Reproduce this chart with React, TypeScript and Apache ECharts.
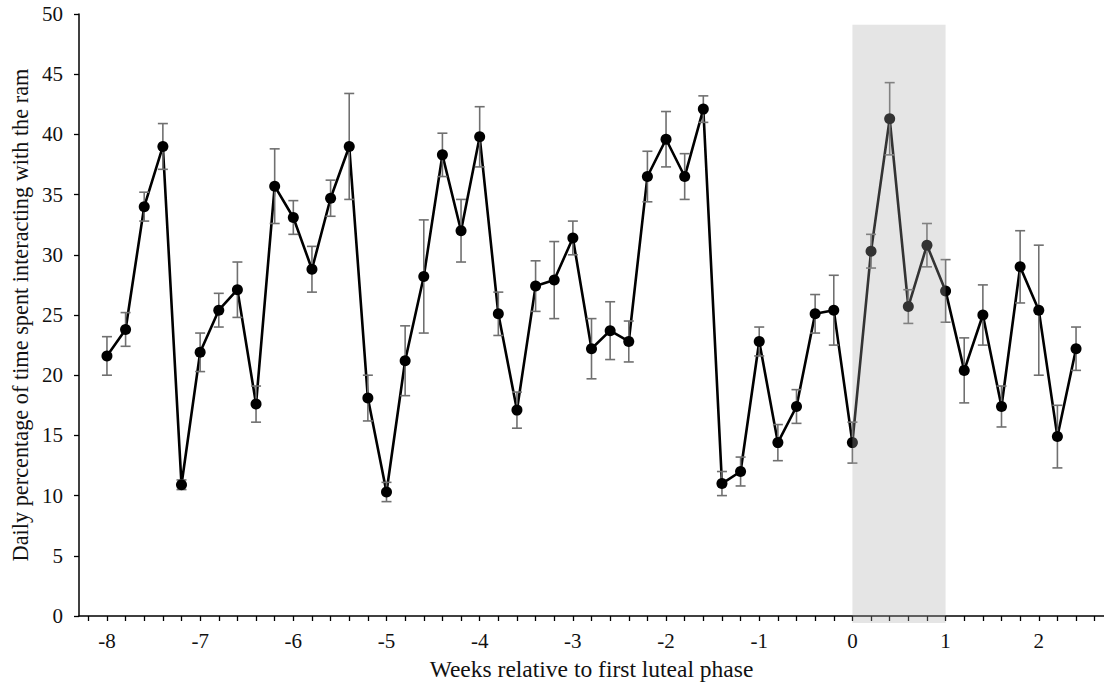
import React, { useEffect, useRef } from "react";
import * as echarts from "echarts";

const weeks = [
  -8.0, -7.8, -7.6, -7.4, -7.2, -7.0, -6.8, -6.6, -6.4, -6.2,
  -6.0, -5.8, -5.6, -5.4, -5.2, -5.0, -4.8, -4.6, -4.4, -4.2,
  -4.0, -3.8, -3.6, -3.4, -3.2, -3.0, -2.8, -2.6, -2.4, -2.2,
  -2.0, -1.8, -1.6, -1.4, -1.2, -1.0, -0.8, -0.6, -0.4, -0.2,
  0.0, 0.2, 0.4, 0.6, 0.8, 1.0, 1.2, 1.4, 1.6, 1.8,
  2.0, 2.2, 2.4,
];

const meanPct = [
  21.6, 23.8, 34.0, 39.0, 10.9, 21.9, 25.4, 27.1, 17.6, 35.7,
  33.1, 28.8, 34.7, 39.0, 18.1, 10.3, 21.2, 28.2, 38.3, 32.0,
  39.8, 25.1, 17.1, 27.4, 27.9, 31.4, 22.2, 23.7, 22.8, 36.5,
  39.6, 36.5, 42.1, 11.0, 12.0, 22.8, 14.4, 17.4, 25.1, 25.4,
  14.4, 30.3, 41.3, 25.7, 30.8, 27.0, 20.4, 25.0, 17.4, 29.0,
  25.4, 14.9, 22.2,
];

const semPct = [
  1.6, 1.4, 1.2, 1.9, 0.4, 1.6, 1.4, 2.3, 1.5, 3.1,
  1.4, 1.9, 1.5, 4.4, 1.9, 0.8, 2.9, 4.7, 1.8, 2.6,
  2.5, 1.8, 1.5, 2.1, 3.2, 1.4, 2.5, 2.4, 1.7, 2.1,
  2.3, 1.9, 1.1, 1.0, 1.2, 1.2, 1.5, 1.4, 1.6, 2.9,
  1.7, 1.4, 3.0, 1.4, 1.8, 2.6, 2.7, 2.5, 1.7, 3.0,
  5.4, 2.6, 1.8,
];

const xTickValues = [
  -8.2, -8.0, -7.8, -7.6, -7.4, -7.2, -7.0, -6.8, -6.6, -6.4, -6.2,
  -6.0, -5.8, -5.6, -5.4, -5.2, -5.0, -4.8, -4.6, -4.4, -4.2,
  -4.0, -3.8, -3.6, -3.4, -3.2, -3.0, -2.8, -2.6, -2.4, -2.2,
  -2.0, -1.8, -1.6, -1.4, -1.2, -1.0, -0.8, -0.6, -0.4, -0.2,
  0.0, 0.2, 0.4, 0.6, 0.8, 1.0, 1.2, 1.4, 1.6, 1.8,
  2.0, 2.2, 2.4, 2.6,
];
const xLabelValues = [-8, -7, -6, -5, -4, -3, -2, -1, 0, 1, 2];

// shaded first luteal phase: [startWeek, endWeek, bottom, top]
const lutealPhase = [[0, 1, 0, 49.1]];

const FONT = "'Liberation Serif', 'Times New Roman', serif";
const TEXT = "#111";

export default function App() {
  const ref = useRef<HTMLDivElement>(null);

  useEffect(() => {
    const chart = echarts.init(ref.current!, null, { renderer: "svg" });
    const points = weeks.map((w, i) => [w, meanPct[i]]);
    const errs = weeks.map((w, i) => [w, meanPct[i] - semPct[i], meanPct[i] + semPct[i]]);

    const errStyle = { stroke: "#707070", lineWidth: 1.6 };

    chart.setOption({
      animation: false,
      backgroundColor: "#fff",
      grid: { left: 79, right: 0, top: 14, bottom: 70, containLabel: false, outerBoundsMode: "none" },
      xAxis: {
        type: "value",
        min: -8.3,
        max: 2.7,
        axisLine: { show: true, onZero: false, lineStyle: { color: "#000", width: 1.5 } },
        axisTick: {
          show: true,
          inside: false,
          length: 5,
          customValues: xTickValues,
          lineStyle: { color: "#000", width: 1.3 },
        },
        axisLabel: {
          customValues: xLabelValues,
          margin: 14,
          fontSize: 21,
          fontFamily: FONT,
          color: TEXT,
        },
        splitLine: { show: false },
        name: "Weeks relative to first luteal phase",
        nameLocation: "middle",
        nameGap: 41,
        nameTextStyle: { fontSize: 23.5, fontFamily: FONT, color: TEXT },
      },
      yAxis: {
        type: "value",
        min: 0,
        max: 50,
        interval: 5,
        axisLine: { show: true, onZero: false, lineStyle: { color: "#000", width: 1.5 } },
        axisTick: { show: true, inside: false, length: 5, lineStyle: { color: "#000", width: 1.3 } },
        axisLabel: { margin: 16, fontSize: 21, fontFamily: FONT, color: TEXT },
        splitLine: { show: false },
        name: "Daily percentage of time spent interacting with the ram",
        nameLocation: "middle",
        nameGap: 45,
        nameTextStyle: { fontSize: 22.3, fontFamily: FONT, color: TEXT },
      },
      series: [
        {
          type: "line",
          data: points,
          symbol: "none",
          z: 2,
          lineStyle: { color: "#000", width: 2.6 },
        },
        {
          type: "custom",
          data: errs,
          z: 3,
          encode: { x: 0, y: [1, 2] },
          renderItem: (_params: any, api: any) => {
            const x = api.value(0);
            const lo = api.coord([x, api.value(1)]);
            const hi = api.coord([x, api.value(2)]);
            const hw = 5;
            return {
              type: "group",
              children: [
                { type: "line", shape: { x1: lo[0], y1: lo[1], x2: hi[0], y2: hi[1] }, style: errStyle },
                { type: "line", shape: { x1: hi[0] - hw, y1: hi[1], x2: hi[0] + hw, y2: hi[1] }, style: errStyle },
                { type: "line", shape: { x1: lo[0] - hw, y1: lo[1], x2: lo[0] + hw, y2: lo[1] }, style: errStyle },
              ],
            };
          },
        },
        {
          type: "scatter",
          data: points,
          symbol: "circle",
          symbolSize: 11,
          z: 4,
          itemStyle: { color: "#000", opacity: 1 },
        },
        {
          type: "custom",
          data: lutealPhase,
          z: 10,
          silent: true,
          encode: { x: [0, 1], y: [2, 3] },
          renderItem: (_params: any, api: any) => {
            const tl = api.coord([api.value(0), api.value(3)]);
            const br = api.coord([api.value(1), api.value(2)]);
            return {
              type: "rect",
              shape: { x: tl[0], y: tl[1], width: br[0] - tl[0], height: br[1] - tl[1] + 7 },
              style: { fill: "rgba(169,169,169,0.3)" },
            };
          },
        },
      ],
    });

    return () => chart.dispose();
  }, []);

  return (
    <div
      ref={ref}
      style={{ position: "fixed", left: 0, top: 0, width: 1104, height: 686 }}
    />
  );
}
